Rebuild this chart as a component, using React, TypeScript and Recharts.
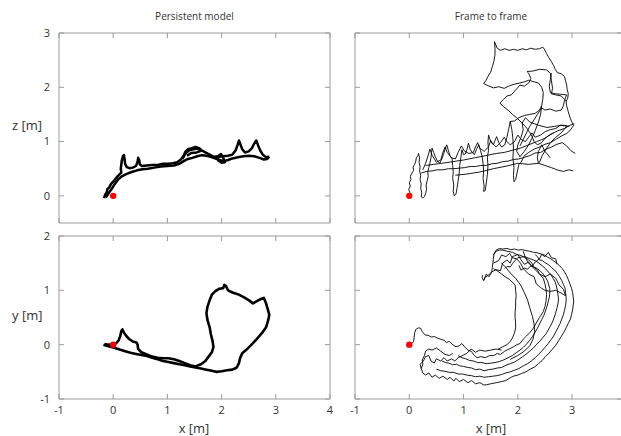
import { LineChart, Line, XAxis, YAxis, ReferenceDot, ReferenceLine } from "recharts";

// trajectories, [x, z] or [x, y] in metres

const xTicksLeft = [-1, 0, 1, 2, 3, 4];
const xTicksRight = [-1, 0, 1, 2, 3];
const zTicks = [0, 1, 2, 3];
const yTicks = [-1, 0, 1, 2];

// persistent model, x-z
const pmXZOut = [
  [-0.17, -0.04], [-0.15, 0.02], [-0.12, 0.06], [-0.11, 0.12], [-0.07, 0.16], [-0.04, 0.22], [0.0, 0.26], [0.04, 0.31],
  [0.08, 0.36], [0.12, 0.4], [0.15, 0.43], [0.14, 0.5], [0.15, 0.58], [0.16, 0.66], [0.18, 0.73], [0.2, 0.75],
  [0.21, 0.67], [0.22, 0.59], [0.25, 0.53], [0.3, 0.51], [0.36, 0.52], [0.42, 0.55], [0.45, 0.63], [0.46, 0.7],
  [0.48, 0.66], [0.49, 0.58], [0.53, 0.55], [0.62, 0.56], [0.72, 0.57], [0.82, 0.57], [0.92, 0.59], [1.02, 0.59],
  [1.1, 0.6], [1.18, 0.62], [1.25, 0.67], [1.3, 0.74], [1.33, 0.81], [1.38, 0.86], [1.45, 0.88], [1.52, 0.9],
  [1.58, 0.88], [1.63, 0.84], [1.7, 0.8], [1.78, 0.76], [1.86, 0.72], [1.93, 0.73], [1.99, 0.77], [2.03, 0.7],
  [2.06, 0.62], [2.0, 0.61], [1.94, 0.65], [1.92, 0.71], [2.02, 0.73], [2.12, 0.74], [2.2, 0.76], [2.26, 0.84],
  [2.3, 0.95], [2.32, 1.02], [2.35, 0.94], [2.38, 0.86], [2.43, 0.8], [2.5, 0.82], [2.56, 0.88], [2.6, 0.96],
  [2.64, 1.02], [2.67, 0.94], [2.71, 0.84], [2.76, 0.76], [2.82, 0.71], [2.88, 0.72],
];
const pmXZBack = [
  [2.88, 0.72], [2.84, 0.68], [2.78, 0.67], [2.7, 0.7], [2.6, 0.73], [2.5, 0.74], [2.4, 0.73], [2.3, 0.71],
  [2.2, 0.69], [2.12, 0.66], [2.05, 0.64], [1.96, 0.66], [1.88, 0.69], [1.8, 0.72], [1.72, 0.74], [1.64, 0.75],
  [1.55, 0.73], [1.46, 0.7], [1.38, 0.68], [1.3, 0.64], [1.22, 0.59], [1.12, 0.56], [1.0, 0.55], [0.88, 0.54],
  [0.76, 0.52], [0.64, 0.5], [0.54, 0.49], [0.44, 0.47], [0.34, 0.44], [0.24, 0.4], [0.16, 0.36], [0.09, 0.3],
  [0.03, 0.22], [-0.02, 0.14], [-0.07, 0.07], [-0.11, 0.01], [-0.14, -0.03],
];
const pmXZLoop = [
  [1.28, 0.68], [1.33, 0.78], [1.4, 0.84], [1.48, 0.86], [1.56, 0.87], [1.62, 0.83], [1.54, 0.8], [1.44, 0.79], [1.36, 0.74],
];

// persistent model, x-y
const pmXYOut = [
  [-0.18, 0.0], [-0.12, -0.02], [-0.05, -0.04], [0.03, -0.06], [0.12, -0.09], [0.22, -0.12], [0.32, -0.15], [0.42, -0.17],
  [0.52, -0.19], [0.62, -0.21], [0.72, -0.24], [0.82, -0.27], [0.92, -0.3], [1.02, -0.32], [1.12, -0.34], [1.22, -0.36],
  [1.32, -0.38], [1.42, -0.4], [1.52, -0.42], [1.62, -0.44], [1.72, -0.46], [1.82, -0.48], [1.9, -0.5], [2.0, -0.49],
  [2.1, -0.47], [2.2, -0.46], [2.28, -0.42], [2.32, -0.34], [2.34, -0.25], [2.38, -0.16], [2.45, -0.1], [2.52, -0.03],
  [2.6, 0.05], [2.68, 0.14], [2.75, 0.22], [2.82, 0.32], [2.86, 0.45], [2.88, 0.55], [2.85, 0.66], [2.82, 0.76],
  [2.78, 0.86], [2.72, 0.84], [2.65, 0.8], [2.58, 0.76], [2.5, 0.82], [2.4, 0.88], [2.3, 0.93], [2.2, 0.96],
  [2.12, 1.0], [2.08, 1.08], [2.05, 1.1], [2.03, 1.04], [1.96, 1.03], [1.88, 0.98], [1.82, 0.92], [1.78, 0.82],
  [1.74, 0.7], [1.72, 0.58], [1.74, 0.45], [1.78, 0.32], [1.8, 0.2], [1.83, 0.08], [1.85, -0.04], [1.82, -0.14],
  [1.76, -0.22], [1.7, -0.3], [1.62, -0.36], [1.52, -0.4],
];
const pmXYBack = [
  [1.52, -0.4], [1.42, -0.38], [1.32, -0.34], [1.22, -0.3], [1.12, -0.27], [1.02, -0.25], [0.92, -0.25], [0.82, -0.24],
  [0.72, -0.22], [0.62, -0.18], [0.52, -0.14], [0.46, -0.08], [0.45, 0.0], [0.43, 0.04], [0.36, 0.06], [0.3, 0.1],
  [0.25, 0.15], [0.2, 0.22], [0.17, 0.28], [0.15, 0.25], [0.13, 0.16], [0.1, 0.08], [0.06, 0.03], [0.0, 0.0],
  [-0.08, 0.0], [-0.16, 0.01],
];

// frame to frame, x-z
const ffXZBand = [
  [0, 0], [0.01, 0.06], [-0.01, 0.12], [0.02, 0.18], [0.0, 0.24], [0.03, 0.3], [0.02, 0.36], [0.05, 0.42], [0.08, 0.47],
  [0.07, 0.53], [0.1, 0.58], [0.12, 0.64], [0.13, 0.7], [0.16, 0.74], [0.17, 0.78], [0.19, 0.7], [0.18, 0.62], [0.2, 0.54],
  [0.19, 0.46], [0.21, 0.38], [0.2, 0.3], [0.22, 0.22], [0.21, 0.14], [0.23, 0.06], [0.22, -0.02], [0.25, -0.04],
  [0.28, -0.01], [0.3, 0.04], [0.32, 0.12], [0.31, 0.2], [0.33, 0.28], [0.35, 0.36], [0.34, 0.44], [0.36, 0.52],
  [0.38, 0.6], [0.4, 0.7], [0.41, 0.8], [0.42, 0.88], [0.45, 0.8], [0.48, 0.72], [0.52, 0.64], [0.56, 0.6], [0.6, 0.68],
  [0.63, 0.76], [0.66, 0.86], [0.69, 0.94], [0.72, 0.84], [0.75, 0.74], [0.79, 0.68], [0.8, 0.56], [0.81, 0.44],
  [0.8, 0.32], [0.82, 0.2], [0.81, 0.08], [0.83, 0.0], [0.86, 0.03], [0.88, 0.14], [0.9, 0.28], [0.92, 0.42],
  [0.93, 0.56], [0.95, 0.7], [0.97, 0.85], [1.0, 0.76], [1.04, 0.78], [1.07, 0.88], [1.09, 0.97], [1.12, 0.86],
  [1.16, 0.8], [1.2, 0.76], [1.24, 0.86], [1.28, 0.94], [1.31, 0.84], [1.34, 0.74], [1.36, 0.6], [1.37, 0.46],
  [1.36, 0.32], [1.38, 0.18], [1.37, 0.08], [1.4, 0.1], [1.42, 0.24], [1.44, 0.4], [1.45, 0.56], [1.44, 0.7],
  [1.46, 0.84], [1.45, 0.98], [1.46, 1.12], [1.5, 1.0], [1.55, 0.94], [1.58, 1.02], [1.61, 1.09], [1.65, 0.98],
  [1.7, 0.9], [1.76, 0.94], [1.8, 1.08], [1.83, 1.22], [1.86, 1.37], [1.89, 1.22], [1.91, 1.05], [1.92, 0.88],
  [1.91, 0.7], [1.93, 0.52], [1.92, 0.38], [1.93, 0.26], [1.96, 0.3], [1.99, 0.44], [2.02, 0.58], [2.06, 0.62],
  [2.12, 0.74], [2.2, 0.8], [2.3, 0.86], [2.4, 0.9], [2.5, 0.95], [2.6, 0.98], [2.7, 1.04], [2.8, 1.1], [2.9, 1.15],
  [2.96, 1.2], [3.0, 1.26], [3.03, 1.3],
];
const ffXZBand2 = [
  [0.25, 0.48], [0.3, 0.6], [0.35, 0.75], [0.38, 0.86], [0.42, 0.75], [0.5, 0.62], [0.58, 0.66], [0.62, 0.8],
  [0.66, 0.9], [0.7, 0.8], [0.78, 0.7], [0.85, 0.68], [0.9, 0.8], [0.96, 0.92], [1.02, 0.82], [1.1, 0.78],
  [1.18, 0.8], [1.22, 0.9], [1.26, 0.98], [1.3, 0.88], [1.38, 0.82], [1.46, 0.9], [1.5, 1.02], [1.54, 0.96],
  [1.6, 0.9], [1.68, 0.98], [1.75, 1.08], [1.8, 1.0], [1.86, 0.94], [1.94, 1.0], [2.0, 1.12], [2.06, 1.04],
  [2.14, 1.0], [2.2, 1.08], [2.26, 1.16], [2.32, 1.08], [2.42, 1.12], [2.5, 1.18], [2.6, 1.22], [2.7, 1.24],
  [2.78, 1.3], [2.86, 1.3], [2.95, 1.28],
];
const ffXZLoops = [
  [3.03, 1.3], [2.99, 1.37], [2.96, 1.45], [2.93, 1.55], [2.9, 1.66], [2.89, 1.74], [2.92, 1.8], [2.93, 1.88],
  [2.91, 1.96], [2.9, 2.04], [2.88, 2.12], [2.86, 2.2], [2.8, 2.25], [2.73, 2.27], [2.69, 2.33], [2.66, 2.4],
  [2.62, 2.47], [2.57, 2.55], [2.53, 2.62], [2.49, 2.7], [2.46, 2.74], [2.4, 2.71], [2.32, 2.7], [2.24, 2.72],
  [2.16, 2.69], [2.08, 2.71], [2.0, 2.68], [1.92, 2.7], [1.84, 2.68], [1.76, 2.71], [1.68, 2.68], [1.62, 2.72],
  [1.57, 2.84], [1.58, 2.72], [1.58, 2.6], [1.56, 2.48], [1.53, 2.38], [1.5, 2.28], [1.45, 2.2], [1.41, 2.12],
  [1.37, 2.07], [1.45, 2.03], [1.55, 1.99], [1.65, 2.01], [1.75, 1.98], [1.85, 2.03], [1.95, 2.06], [2.04, 2.08],
  [2.12, 2.1], [2.2, 2.13], [2.3, 2.1], [2.38, 2.08], [2.44, 2.0], [2.47, 1.9], [2.46, 1.78], [2.44, 1.66],
  [2.4, 1.58], [2.32, 1.52], [2.22, 1.5], [2.12, 1.48], [2.02, 1.44], [1.94, 1.38], [1.86, 1.37],
];
const ffXZInner = [
  [1.67, 1.71], [1.74, 1.78], [1.8, 1.84], [1.88, 1.86], [1.96, 1.95], [2.04, 2.04], [2.12, 2.02], [2.2, 2.08],
  [2.24, 2.16], [2.2, 2.26], [2.17, 2.29], [2.28, 2.3], [2.4, 2.33], [2.53, 2.32], [2.6, 2.26], [2.62, 2.12],
  [2.64, 1.98], [2.62, 1.88], [2.7, 1.86], [2.8, 1.84], [2.9, 1.74],
];
const ffXZRightCells = [
  [2.62, 2.26], [2.6, 2.14], [2.58, 2.02], [2.6, 1.9], [2.7, 1.88], [2.8, 1.87], [2.9, 1.86], [2.86, 1.76],
  [2.84, 1.66], [2.8, 1.58], [2.7, 1.56], [2.6, 1.6], [2.5, 1.58], [2.44, 1.62], [2.36, 1.5], [2.3, 1.4],
  [2.22, 1.28], [2.16, 1.16], [2.1, 1.04], [2.04, 0.92],
];
const ffXZInnerDrop = [
  [1.67, 1.71], [1.74, 1.64], [1.82, 1.58], [1.9, 1.5], [1.98, 1.44], [2.06, 1.36], [2.14, 1.28], [2.2, 1.2],
  [2.26, 1.1], [2.3, 1.0], [2.36, 0.94], [2.44, 0.98], [2.5, 1.06], [2.58, 1.12], [2.66, 1.16],
];
const ffXZDiagA = [
  [3.06, 0.78], [2.98, 0.83], [2.9, 0.92], [2.82, 0.98], [2.72, 0.95], [2.62, 0.9], [2.52, 0.86], [2.42, 0.8],
  [2.32, 0.79], [2.22, 0.74], [2.12, 0.71], [2.02, 0.68], [1.92, 0.67], [1.82, 0.64], [1.72, 0.63], [1.62, 0.6],
  [1.52, 0.59], [1.42, 0.56], [1.32, 0.56], [1.22, 0.54], [1.12, 0.54], [1.02, 0.52], [0.92, 0.51], [0.82, 0.5],
  [0.72, 0.5], [0.62, 0.48], [0.52, 0.48], [0.42, 0.46], [0.32, 0.45], [0.22, 0.42],
];
const ffXZDiagB = [
  [0.3, 0.56], [0.45, 0.58], [0.6, 0.6], [0.8, 0.63], [1.0, 0.66], [1.2, 0.7], [1.4, 0.74], [1.6, 0.78], [1.75, 0.8],
  [1.9, 0.84], [2.05, 0.88], [2.2, 0.94], [2.35, 1.0], [2.5, 1.06], [2.62, 1.14], [2.74, 1.2], [2.86, 1.24],
  [2.96, 1.3], [3.04, 1.33],
];
const ffXZDiagC = [
  [0.85, 0.38], [1.05, 0.4], [1.3, 0.44], [1.55, 0.5], [1.8, 0.55], [2.0, 0.6], [2.2, 0.58], [2.38, 0.6],
  [2.5, 0.56], [2.62, 0.52], [2.72, 0.48], [2.84, 0.45], [2.94, 0.48], [3.02, 0.46],
];
const ffXZDrops = [
  [2.44, 1.66], [2.42, 1.5], [2.38, 1.36], [2.32, 1.2], [2.26, 1.06], [2.2, 0.94], [2.12, 0.82], [2.04, 0.72],
  [1.98, 0.82], [2.0, 0.94], [2.06, 1.08], [2.1, 1.22], [2.08, 1.34], [2.14, 1.44], [2.22, 1.36], [2.38, 1.3],
  [2.54, 1.26], [2.68, 1.28], [2.8, 1.3], [2.9, 1.28], [2.8, 1.16], [2.7, 1.08], [2.6, 0.98], [2.52, 0.86],
  [2.45, 0.74], [2.4, 0.62], [2.38, 0.6], [2.36, 0.7], [2.38, 0.82], [2.44, 0.94], [2.5, 0.82], [2.6, 0.7],
];

// frame to frame, x-y
const ffXYStart = [
  [0, 0], [0.05, 0.02], [0.08, 0.06], [0.09, 0.14], [0.1, 0.22], [0.12, 0.28], [0.17, 0.31], [0.21, 0.3], [0.24, 0.24],
  [0.29, 0.18], [0.35, 0.17], [0.41, 0.14], [0.46, 0.15], [0.52, 0.12], [0.58, 0.1], [0.64, 0.08], [0.69, 0.04],
  [0.74, 0.06], [0.8, 0.0], [0.86, -0.04], [0.92, -0.02], [0.97, 0.02], [1.02, -0.04], [1.08, -0.1], [1.14, -0.12],
  [1.2, -0.2], [1.25, -0.24], [1.32, -0.22], [1.4, -0.24], [1.48, -0.2], [1.56, -0.2], [1.62, -0.16], [1.68, -0.18],
  [1.76, -0.12], [1.84, -0.08], [1.92, -0.04], [1.98, 0.0], [2.04, 0.02], [2.1, 0.1], [2.16, 0.16], [2.22, 0.22],
  [2.29, 0.31], [2.34, 0.4], [2.4, 0.5], [2.47, 0.61], [2.5, 0.7], [2.52, 0.8], [2.53, 0.92], [2.52, 1.02],
  [2.5, 1.12], [2.47, 1.22], [2.4, 1.3], [2.36, 1.38], [2.3, 1.42], [2.26, 1.5], [2.2, 1.56], [2.14, 1.6],
  [2.06, 1.64], [1.98, 1.66], [1.9, 1.7], [1.8, 1.72], [1.72, 1.74], [1.66, 1.74], [1.6, 1.72], [1.56, 1.66],
  [1.55, 1.58], [1.54, 1.5], [1.53, 1.42], [1.52, 1.34], [1.46, 1.28], [1.4, 1.24], [1.37, 1.18], [1.34, 1.24],
  [1.35, 1.28],
];
const ffXYOuter = [
  [1.55, 1.65], [1.6, 1.74], [1.66, 1.77], [1.72, 1.76], [1.8, 1.77], [1.87, 1.75], [1.94, 1.76], [2.01, 1.74],
  [2.08, 1.75], [2.15, 1.73], [2.22, 1.72], [2.29, 1.7], [2.36, 1.69], [2.43, 1.67], [2.49, 1.65], [2.55, 1.61],
  [2.61, 1.58], [2.66, 1.54], [2.72, 1.5], [2.77, 1.45], [2.82, 1.4], [2.86, 1.34], [2.9, 1.27], [2.93, 1.2],
  [2.96, 1.12], [2.99, 1.04], [3.01, 0.96], [3.02, 0.88], [3.03, 0.8], [3.02, 0.72], [3.01, 0.64], [2.99, 0.55],
  [2.97, 0.47], [2.93, 0.39], [2.89, 0.31], [2.85, 0.23], [2.8, 0.15], [2.75, 0.07], [2.7, -0.01], [2.64, -0.08],
  [2.58, -0.15], [2.51, -0.22], [2.45, -0.29], [2.38, -0.35], [2.31, -0.41], [2.23, -0.45], [2.15, -0.5], [2.07, -0.53],
  [2.0, -0.56], [1.92, -0.58], [1.86, -0.61], [1.78, -0.66], [1.7, -0.68], [1.6, -0.7], [1.5, -0.72], [1.42, -0.74],
  [1.37, -0.74], [1.3, -0.7], [1.22, -0.72], [1.15, -0.66], [1.08, -0.7], [1.0, -0.64], [0.92, -0.68], [0.86, -0.62],
  [0.82, -0.67], [0.75, -0.6], [0.7, -0.64], [0.62, -0.58], [0.55, -0.62], [0.48, -0.56], [0.42, -0.6], [0.36, -0.52],
  [0.3, -0.56], [0.25, -0.52], [0.22, -0.44], [0.25, -0.36], [0.24, -0.28], [0.28, -0.2], [0.3, -0.12], [0.36, -0.08],
  [0.42, -0.1], [0.5, -0.06], [0.58, -0.12], [0.66, -0.18], [0.74, -0.2], [0.8, -0.16],
];
const ffXYMid = [
  [0.6, -0.3], [0.67, -0.33], [0.73, -0.34], [0.8, -0.37], [0.87, -0.36], [0.93, -0.39], [1.0, -0.4], [1.08, -0.42],
  [1.15, -0.43], [1.22, -0.46], [1.3, -0.45], [1.38, -0.48], [1.46, -0.46], [1.54, -0.45], [1.62, -0.43], [1.7, -0.42],
  [1.78, -0.38], [1.86, -0.35], [1.94, -0.32], [2.02, -0.27], [2.09, -0.22], [2.16, -0.17], [2.23, -0.11], [2.29, -0.06],
  [2.35, 0.01], [2.41, 0.07], [2.46, 0.13], [2.52, 0.2], [2.56, 0.27], [2.6, 0.34], [2.64, 0.42], [2.67, 0.5],
  [2.7, 0.59], [2.72, 0.67], [2.74, 0.75], [2.75, 0.84], [2.74, 0.92], [2.73, 1.0], [2.71, 1.08], [2.69, 1.15],
  [2.65, 1.22], [2.61, 1.29], [2.56, 1.34], [2.51, 1.4], [2.45, 1.45], [2.39, 1.5], [2.33, 1.54], [2.26, 1.57],
  [2.2, 1.59], [2.13, 1.62], [2.06, 1.61], [2.0, 1.6], [1.95, 1.55], [1.9, 1.49], [1.86, 1.43], [1.8, 1.44], [1.76, 1.4],
];
const ffXYInnerArc = [
  [0.9, -0.2], [0.97, -0.24], [1.04, -0.26], [1.11, -0.29], [1.18, -0.3], [1.26, -0.33], [1.34, -0.33], [1.42, -0.35],
  [1.5, -0.34], [1.58, -0.33], [1.66, -0.31], [1.74, -0.28], [1.82, -0.24], [1.9, -0.2], [1.97, -0.15], [2.04, -0.1],
  [2.1, -0.05], [2.16, 0.01], [2.22, 0.08], [2.27, 0.15], [2.32, 0.23], [2.36, 0.3], [2.4, 0.38], [2.44, 0.46],
  [2.48, 0.54], [2.51, 0.62], [2.54, 0.71], [2.56, 0.79], [2.58, 0.87], [2.59, 0.95], [2.59, 1.03], [2.57, 1.1],
  [2.55, 1.17], [2.51, 1.24], [2.47, 1.3], [2.42, 1.35], [2.36, 1.4], [2.3, 1.43], [2.24, 1.45], [2.18, 1.39],
  [2.12, 1.41], [2.06, 1.37], [2.02, 1.46],
];
const ffXYOuterArc = [
  [0.5, -0.45], [0.58, -0.48], [0.66, -0.49], [0.74, -0.51], [0.82, -0.51], [0.9, -0.54], [0.98, -0.54], [1.06, -0.56],
  [1.14, -0.57], [1.22, -0.59], [1.3, -0.58], [1.38, -0.6], [1.46, -0.59], [1.54, -0.58], [1.62, -0.57], [1.7, -0.55],
  [1.78, -0.52], [1.86, -0.5], [1.94, -0.47], [2.02, -0.44], [2.1, -0.39], [2.18, -0.35], [2.25, -0.3], [2.32, -0.24],
  [2.38, -0.18], [2.44, -0.12], [2.5, -0.05], [2.56, 0.02], [2.61, 0.09], [2.66, 0.16], [2.7, 0.24], [2.74, 0.31],
  [2.78, 0.39], [2.81, 0.47], [2.84, 0.55], [2.86, 0.63], [2.88, 0.72], [2.89, 0.8], [2.89, 0.88], [2.88, 0.96],
  [2.87, 1.04], [2.84, 1.11], [2.81, 1.18], [2.77, 1.25], [2.73, 1.31], [2.68, 1.37], [2.62, 1.42], [2.57, 1.47],
  [2.5, 1.51], [2.45, 1.55], [2.4, 1.56], [2.36, 1.62], [2.32, 1.66],
];
const ffXYTopWiggles = [
  [1.37, 1.18], [1.42, 1.3], [1.47, 1.25], [1.52, 1.34], [1.6, 1.38], [1.68, 1.36], [1.72, 1.5], [1.8, 1.56],
  [1.86, 1.5], [1.9, 1.62], [2.0, 1.66], [2.06, 1.56], [2.12, 1.48], [2.2, 1.52], [2.26, 1.44], [2.32, 1.52],
  [2.4, 1.58], [2.44, 1.66], [2.5, 1.62], [2.56, 1.7], [2.62, 1.6], [2.7, 1.58], [2.72, 1.48],
];
const ffXYTopCells = [
  [1.55, 1.5], [1.65, 1.55], [1.7, 1.65], [1.78, 1.62], [1.85, 1.68], [1.9, 1.6], [1.98, 1.58], [2.05, 1.5],
  [2.1, 1.4], [2.2, 1.3], [2.3, 1.25], [2.34, 1.12], [2.42, 1.05], [2.5, 1.0], [2.6, 0.98], [2.7, 1.0], [2.8, 0.95],
  [2.88, 0.9], [2.84, 1.02], [2.76, 1.1], [2.7, 1.22], [2.6, 1.3], [2.5, 1.25], [2.4, 1.3], [2.3, 1.4], [2.2, 1.5],
  [2.14, 1.6], [2.1, 1.72],
];
const ffXYInnerDrop = [
  [1.55, 1.4], [1.62, 1.36], [1.7, 1.3], [1.78, 1.24], [1.85, 1.2], [1.91, 1.14], [1.95, 1.1], [1.96, 1.0],
  [1.97, 0.9], [1.96, 0.8], [1.96, 0.7], [1.95, 0.6], [1.95, 0.5], [1.96, 0.4], [1.96, 0.31], [1.94, 0.22],
  [1.9, 0.12], [1.86, 0.06], [1.8, 0.0], [1.72, -0.04], [1.64, -0.08],
];
const ffXYCrossA = [
  [1.7, 1.5], [1.78, 1.42], [1.86, 1.32], [1.96, 1.22], [2.05, 1.1], [2.12, 0.96], [2.18, 0.82], [2.22, 0.68],
  [2.27, 0.52], [2.3, 0.38], [2.31, 0.24], [2.28, 0.1], [2.22, -0.02], [2.12, -0.12], [2.0, -0.2], [1.86, -0.27],
];
const ffXYLobes = [
  [0.22, -0.44], [0.2, -0.36], [0.26, -0.3], [0.3, -0.22], [0.36, -0.2], [0.4, -0.3], [0.46, -0.34], [0.5, -0.26],
  [0.58, -0.3], [0.64, -0.24], [0.7, -0.3], [0.78, -0.26], [0.84, -0.3], [0.9, -0.24], [0.98, -0.2], [1.06, -0.16],
  [1.14, -0.08], [1.22, -0.14], [1.3, -0.1], [1.4, -0.12], [1.5, -0.1], [1.6, -0.08], [1.7, -0.1],
];

type Pair = number[];
const pts = (arr: Pair[]) => arr.map(([x, v]) => ({ x, v }));

const FONT = "'Open Sans', 'Noto Sans', sans-serif";
const AXIS_COLOR = "#9a9a9a";
const tickStyle = { fontSize: 11, fill: "#333", fontFamily: FONT };

type PanelProps = {
  left: number;
  top: number;
  width: number;
  height: number;
  margin: { top: number; right: number; bottom: number; left: number };
  xDomain: number[];
  xTicks: number[];
  yDomain: number[];
  yTicks: number[];
  showX: boolean;
  showY: boolean;
  yWidth: number;
  series: Pair[][];
  strokeWidth: number;
};

function Panel(p: PanelProps) {
  const [x0, x1] = p.xDomain;
  const [y0, y1] = p.yDomain;
  const plotW = p.width - p.margin.left - p.margin.right - p.yWidth;
  const plotH = p.height - p.margin.top - p.margin.bottom - (p.showX ? 37 : 1);
  // inward tick length of 5px, in data units
  const kx = (5 * (x1 - x0)) / plotW;
  const ky = (5 * (y1 - y0)) / plotH;
  const frame = { stroke: AXIS_COLOR, strokeWidth: 1 };
  return (
    <div style={{ position: "absolute", left: p.left, top: p.top }}>
      <LineChart width={p.width} height={p.height} margin={p.margin}>
        <XAxis
          dataKey="x"
          type="number"
          domain={p.xDomain}
          ticks={p.xTicks}
          allowDataOverflow
          height={p.showX ? 37 : 1}
          tick={p.showX ? tickStyle : false}
          tickSize={0}
          tickMargin={7}
          axisLine={false}
          tickLine={false}
        />
        <YAxis
          type="number"
          domain={p.yDomain}
          ticks={p.yTicks}
          allowDataOverflow
          width={p.yWidth}
          tick={p.showY ? tickStyle : false}
          tickSize={0}
          tickMargin={9}
          axisLine={false}
          tickLine={false}
        />
        <ReferenceLine x={x0} {...frame} />
        <ReferenceLine x={x1} {...frame} />
        <ReferenceLine y={y0} {...frame} />
        <ReferenceLine y={y1} {...frame} />
        {p.xTicks.map((t) => (
          <ReferenceLine key={"xb" + t} segment={[{ x: t, y: y0 }, { x: t, y: y0 + ky }]} {...frame} />
        ))}
        {p.xTicks.map((t) => (
          <ReferenceLine key={"xt" + t} segment={[{ x: t, y: y1 - ky }, { x: t, y: y1 }]} {...frame} />
        ))}
        {p.yTicks.map((t) => (
          <ReferenceLine key={"yl" + t} segment={[{ x: x0, y: t }, { x: x0 + kx, y: t }]} {...frame} />
        ))}
        {p.yTicks.map((t) => (
          <ReferenceLine key={"yr" + t} segment={[{ x: x1 - kx, y: t }, { x: x1, y: t }]} {...frame} />
        ))}
        {p.series.map((s, i) => (
          <Line
            key={i}
            data={pts(s)}
            dataKey="v"
            type="linear"
            stroke="#000"
            strokeWidth={p.strokeWidth}
            strokeLinejoin="round"
            dot={false}
            activeDot={false}
            isAnimationActive={false}
          />
        ))}
        <ReferenceDot x={0} y={0} r={3.2} fill="#ff0000" stroke="none" />
      </LineChart>
    </div>
  );
}

const textStyle = { position: "absolute" as const, fontFamily: FONT, color: "#333", whiteSpace: "nowrap" as const };

export default function App() {
  return (
    <div style={{ position: "absolute", left: 0, top: 0, width: 621, height: 436, overflow: "hidden", background: "#fff" }}>
      <Panel
        left={0} top={0} width={340} height={227}
        margin={{ top: 33, right: 10, bottom: 3, left: 0 }}
        xDomain={[-1, 4]} xTicks={xTicksLeft} yDomain={[-0.5, 3]} yTicks={zTicks}
        showX={false} showY yWidth={59}
        series={[pmXZOut, pmXZBack, pmXZLoop]} strokeWidth={2.5}
      />
      <Panel
        left={0} top={200} width={340} height={236}
        margin={{ top: 36, right: 10, bottom: 0, left: 0 }}
        xDomain={[-1, 4]} xTicks={xTicksLeft} yDomain={[-1, 2]} yTicks={yTicks}
        showX showY yWidth={59}
        series={[pmXYOut, pmXYBack]} strokeWidth={2.6}
      />
      <Panel
        left={340} top={0} width={290} height={227}
        margin={{ top: 33, right: 8, bottom: 3, left: 0 }}
        xDomain={[-1, 3.92]} xTicks={xTicksRight} yDomain={[-0.5, 3]} yTicks={zTicks}
        showX={false} showY={false} yWidth={15}
        series={[ffXZBand, ffXZBand2, ffXZLoops, ffXZInner, ffXZRightCells, ffXZInnerDrop, ffXZDiagA, ffXZDiagB, ffXZDiagC, ffXZDrops]}
        strokeWidth={0.9}
      />
      <Panel
        left={340} top={200} width={290} height={236}
        margin={{ top: 36, right: 8, bottom: 0, left: 0 }}
        xDomain={[-1, 3.92]} xTicks={xTicksRight} yDomain={[-1, 2]} yTicks={yTicks}
        showX showY={false} yWidth={15}
        series={[ffXYStart, ffXYOuter, ffXYMid, ffXYInnerArc, ffXYOuterArc, ffXYTopWiggles, ffXYTopCells, ffXYInnerDrop, ffXYCrossA, ffXYLobes]}
        strokeWidth={0.9}
      />
      <div style={{ ...textStyle, left: 0, width: 389, top: 9, textAlign: "center", fontSize: 10 }}>Persistent model</div>
      <div style={{ ...textStyle, left: 391, width: 200, top: 9, textAlign: "center", fontSize: 10 }}>Frame to frame</div>
      <div style={{ ...textStyle, left: 12, top: 116, fontSize: 13 }}>z [m]</div>
      <div style={{ ...textStyle, left: 12, top: 306, fontSize: 13 }}>y [m]</div>
      <div style={{ ...textStyle, left: 94, width: 200, top: 419, textAlign: "center", fontSize: 13 }}>x [m]</div>
      <div style={{ ...textStyle, left: 391, width: 200, top: 419, textAlign: "center", fontSize: 13 }}>x [m]</div>
    </div>
  );
}
